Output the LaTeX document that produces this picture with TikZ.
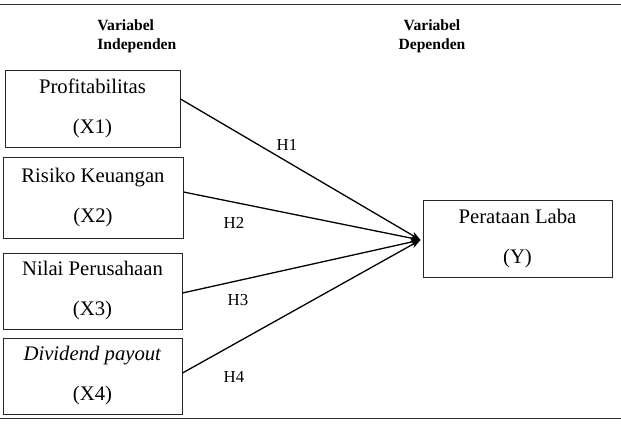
\documentclass[tikz,border=0pt]{standalone}
\usepackage{fontspec}
\setmainfont{Liberation Serif}
\usetikzlibrary{arrows.meta}
\tikzset{
  varbox/.style={draw=black!85, line width=0.5pt, rectangle, inner sep=0pt, align=center,
    font=\fontsize{10.35}{20}\selectfont},
  hdr/.style={inner sep=0pt, font=\fontsize{7.8}{9}\selectfont\bfseries},
  hlab/.style={inner sep=0pt, font=\fontsize{8.4}{10}\selectfont},
  conn/.style={line width=0.65pt, -{Stealth[length=5pt,width=3.6pt]}},
  rule/.style={line width=0.75pt, draw=black!80}
}
\begin{document}
\begin{tikzpicture}[x=0.5pt, y=-0.5pt]
\useasboundingbox (0,0) rectangle (621,424);
\coordinate (tl) at (0,4.5);
\coordinate (tr) at (621,4.5);
\coordinate (bl) at (0,418.5);
\coordinate (br) at (621,418.5);
\draw[rule] (tl) -- (tr);
\draw[rule] (bl) -- (br);

\node[hdr, anchor=base west] (hv1) at (97,30) {Variabel};
\node[hdr, anchor=base west] (hi1) at (97,49) {Independen};
\node[hdr, anchor=base] (hv2) at (432,30) {Variabel};
\node[hdr, anchor=base] (hd2) at (432,49) {Dependen};

\node[varbox, minimum width=87.5pt, minimum height=38.5pt] (b1) at (92.5,108.5) {Profitabilitas\\(X1)};
\node[varbox, minimum width=90pt, minimum height=40.5pt] (b2) at (93,197.5) {Risiko Keuangan\\(X2)};
\node[varbox, minimum width=89.5pt, minimum height=38pt] (b3) at (92.5,291) {Nilai Perusahaan\\(X3)};
\node[varbox, minimum width=89.5pt, minimum height=38pt] (b4) at (92.5,376) {\textit{Dividend payout}\\(X4)};
\node[varbox, minimum width=94.5pt, minimum height=38.5pt] (r) at (517.5,238.5) {Perataan Laba\\(Y)};

\coordinate (tip) at ([shift={(-1pt,-0.75pt)}]r.west);
\draw[conn] ([yshift=4.75pt]b1.east) -- (tip);
\draw[conn] ([yshift=2.75pt]b2.east) -- (tip);
\draw[conn] ([yshift=-1pt]b3.east) -- (tip);
\draw[conn] ([yshift=1.5pt]b4.east) -- (tip);

\node[hlab] (h1) at (287,145) {H1};
\node[hlab] (h2) at (234,223) {H2};
\node[hlab] (h3) at (238,300) {H3};
\node[hlab] (h4) at (234,377) {H4};
\end{tikzpicture}
\end{document}
